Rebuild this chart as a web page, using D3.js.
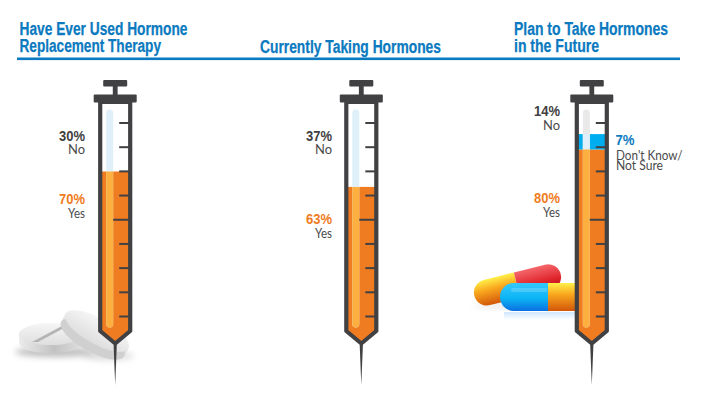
<!DOCTYPE html>
<html lang="en">
<head>
<meta charset="utf-8">
<title>Hormone Use</title>
<script src="https://d3js.org/d3.v7.min.js"></script>
<style>
  html, body { margin: 0; padding: 0; background: #fff; }
  svg { display: block; }
  text { fill: #414042; }
  .title { font-family: "Liberation Sans", sans-serif; font-weight: bold; font-size: 18px; fill: #0b7ac0; stroke: #0b7ac0; stroke-width: 0.25px; }
  .pct { font-family: "Liberation Sans", sans-serif; font-weight: bold; font-size: 15.5px; text-anchor: end; }
  .lab { font-family: Lato, sans-serif; font-weight: 400; font-size: 12.5px; text-anchor: end; fill: #4a4a4c; }
</style>
</head>
<body>
<div id="chart"></div>
<script>
var w = 724, h = 401;

// data
var charts = ["Have Ever Used Hormone Replacement Therapy", "Currently Taking Hormones", "Plan to Take Hormones in the Future"];
var yesValues = [70, 63, 80];
var dontKnowValues = [0, 0, 7];
var noValues = [30, 37, 14];
var tickIndex = [0, 1, 2, 3, 4, 5, 6, 7, 8];
var longTick = 4;

var centers = [115.2, 361.3, 591.8];

var svg = d3.select("#chart").append("svg").attr("width", w).attr("height", h);
var defs = svg.append("defs");

function grad(id, stops, horizontal) {
  var g = defs.append("linearGradient").attr("id", id)
    .attr("x1", 0).attr("y1", 0)
    .attr("x2", horizontal ? 1 : 0).attr("y2", horizontal ? 0 : 1);
  stops.forEach(function(s) { g.append("stop").attr("offset", s[0]).attr("stop-color", s[1]); });
}
grad("pillBlue", [[0, "#35c8fb"], [0.55, "#0cb4f5"], [1, "#0a6fe0"]]);
grad("pillYellow", [[0, "#fff04a"], [0.4, "#f9a81e"], [1, "#d2560a"]]);
grad("pillRed", [[0, "#f4676c"], [0.6, "#e0252c"], [1, "#b5101a"]]);
grad("pillFade", [[0, "#cfe6fb"], [1, "#ffffff"]]);
grad("tabTop", [[0, "#f6f6f6"], [1, "#dedede"]]);
grad("tabSide", [[0, "#ececec"], [0.55, "#c2c2c2"], [1, "#e0e0e0"]], true);
var blur = defs.append("filter").attr("id", "soft").attr("x", "-30%").attr("y", "-100%").attr("width", "160%").attr("height", "300%");
blur.append("feGaussianBlur").attr("stdDeviation", 3);

// value scale shared by the three barrels, tick scale for the printed marks
var y = d3.scaleLinear().domain([0, 100]).range([325.5, 105.5]);
var tickY = d3.scaleLinear().domain([0, 8]).range([316.5, 123]);

// titles
function title(x, lines, widths, base) {
  lines.forEach(function(t, i) {
    svg.append("text").attr("class", "title").attr("x", x).attr("y", base[i])
      .attr("textLength", widths[i]).attr("lengthAdjust", "spacingAndGlyphs").text(t);
  });
}
title(19.5, ["Have Ever Used Hormone", "Replacement Therapy"], [168, 141.5], [35, 51.6]);
title(260, ["Currently Taking Hormones"], [181], [52.6]);
title(514, ["Plan to Take Hormones", "in the Future"], [154, 85], [35, 51.6]);
svg.append("rect").attr("x", 17).attr("y", 57.5).attr("width", 663).attr("height", 2.6).attr("fill", "#0b7ac0");

// tablets, lower left
var tab = svg.append("g");
tab.append("ellipse").attr("cx", 55).attr("cy", 352).attr("rx", 40).attr("ry", 5).attr("fill", "#8f8f8f").attr("opacity", 0.6).attr("filter", "url(#soft)");
tab.append("ellipse").attr("cx", 108).attr("cy", 356).attr("rx", 26).attr("ry", 4).attr("fill", "#b5b5b5").attr("opacity", 0.5).attr("filter", "url(#soft)");
tab.append("path").attr("d", "M19 334 V342 C19 357 83 357 83 342 V334 Z").attr("fill", "url(#tabSide)");
tab.append("ellipse").attr("cx", 51).attr("cy", 334).attr("rx", 32).attr("ry", 11).attr("fill", "url(#tabTop)");
tab.append("path").attr("d", "M32 342 L62 326 L64 328 L38 342 Z").attr("fill", "#b4b4b4");
var tab2 = tab.append("g").attr("transform", "translate(97,331) rotate(29)");
tab2.append("rect").attr("x", -36).attr("y", 0).attr("width", 72).attr("height", 9).attr("fill", "url(#tabSide)");
tab2.append("ellipse").attr("cx", 0).attr("cy", 9).attr("rx", 36).attr("ry", 13).attr("fill", "#d0d0d0");
tab2.append("ellipse").attr("cx", 0).attr("cy", 0).attr("rx", 36).attr("ry", 13).attr("fill", "url(#tabTop)");
tab2.append("path").attr("d", "M-3 -13 L1 -13 L13 -1 L9 -1 Z").attr("fill", "#b4b4b4");

// capsules, lower right
var pills = svg.append("g");
pills.append("ellipse").attr("cx", 510).attr("cy", 306).attr("rx", 38).attr("ry", 1.5).attr("fill", "#bbb").attr("opacity", 0.6).attr("filter", "url(#soft)");
pills.append("rect").attr("x", 504).attr("y", 312).attr("width", 72).attr("height", 8).attr("fill", "url(#pillFade)");
var back = pills.append("g").attr("transform", "translate(517,285) rotate(-14)");
back.append("path").attr("d", "M0 -13 H-31 A13 13 0 0 0 -31 13 H0 Z").attr("fill", "url(#pillYellow)");
back.append("path").attr("d", "M0 -13 H32 A13 13 0 0 1 32 13 H0 Z").attr("fill", "url(#pillRed)");
var front = pills.append("g");
front.append("path").attr("d", "M548 283 H514 A14 14 0 0 0 514 311 H548 Z").attr("fill", "url(#pillBlue)");
front.append("rect").attr("x", 548).attr("y", 283).attr("width", 32).attr("height", 28).attr("fill", "url(#pillYellow)");
front.append("path").attr("d", "M513 288 H547 V292 H513 A2 2 0 0 1 513 288 Z").attr("fill", "#fff").attr("opacity", 0.18);

// one syringe per chart
charts.forEach(function(name, i) {
  var g = svg.append("g").attr("transform", "translate(" + centers[i] + ",0)");
  var halfIn = 15, wall = 4.2;
  var outline = "M" + (-halfIn) + " 102 V331 L0 343.5 L" + halfIn + " 331 V102 Z";
  var clip = "barrel" + i;

  // needle
  g.append("path").attr("d", "M-1.6 345 L0 385 L1.6 345 Z").attr("fill", "#414042");

  defs.append("clipPath").attr("id", clip).append("path").attr("d", outline);
  g.append("path").attr("d", outline).attr("fill", "#fff");

  var body = g.append("g").attr("clip-path", "url(#" + clip + ")");
  var yes = yesValues[i], dk = dontKnowValues[i];

  // orange liquid, filled past the scale's zero down into the tip
  body.append("rect").attr("x", -halfIn).attr("y", y(yes)).attr("width", 2 * halfIn)
    .attr("height", 350 - y(yes)).attr("fill", "#f07c22");
  if (dk > 0) {
    body.append("rect").attr("x", -halfIn).attr("y", y(yes + dk)).attr("width", 2 * halfIn)
      .attr("height", y(yes) - y(yes + dk)).attr("fill", "#00aeef");
  }

  // highlight strip
  var hx = -9, hw = 7;
  body.append("rect").attr("x", hx).attr("y", y(100) + 4).attr("width", hw).attr("height", 218).attr("rx", 3.5)
    .attr("fill", dk > 0 ? "#e9e9e9" : "#dff0fa");
  if (dk > 0) {
    body.append("rect").attr("x", hx).attr("y", y(yes + dk)).attr("width", hw)
      .attr("height", y(yes) - y(yes + dk)).attr("fill", "#dff0fa");
  }
  var hiClip = "high" + i;
  defs.append("clipPath").attr("id", hiClip).append("rect").attr("x", -20).attr("y", y(yes)).attr("width", 40).attr("height", 200);
  body.append("rect").attr("x", hx).attr("y", y(100) + 4).attr("width", hw).attr("height", 218).attr("rx", 3.5)
    .attr("fill", "#fdb040").attr("clip-path", "url(#" + hiClip + ")");

  // printed ticks
  g.selectAll(".tick").data(tickIndex).enter().append("line")
    .attr("x1", function(d) { return d === longTick ? -2 : 4; })
    .attr("x2", 14)
    .attr("y1", function(d) { return tickY(d); })
    .attr("y2", function(d) { return tickY(d); })
    .attr("stroke", "#414042").attr("stroke-width", 2);

  // barrel wall
  g.append("path").attr("d", outline).attr("fill", "none").attr("stroke", "#414042").attr("stroke-width", wall).attr("stroke-linejoin", "round");

  // flange and plunger
  g.append("rect").attr("x", -21.5).attr("y", 94.5).attr("width", 43).attr("height", 8).attr("rx", 1).attr("fill", "#414042");
  g.append("rect").attr("x", -2.4).attr("y", 85).attr("width", 4.8).attr("height", 10).attr("fill", "#414042");
  g.append("rect").attr("x", -12).attr("y", 80).attr("width", 24).attr("height", 6.5).attr("rx", 1).attr("fill", "#414042");
});

// value labels
function label(x, yPct, yLab, pct, lab, col) {
  svg.append("text").attr("class", "pct").attr("x", x).attr("y", yPct).style("fill", col)
    .attr("textLength", 26).attr("lengthAdjust", "spacingAndGlyphs").text(pct + "%");
  svg.append("text").attr("class", "lab").attr("x", x).attr("y", yLab)
    .attr("textLength", 17).attr("lengthAdjust", "spacingAndGlyphs").text(lab);
}
var orange = "#f07c22", dark = "#414042", blue = "#0b7ac0";
label(85, 141, 154, noValues[0], "No", dark);
label(85, 204, 218, yesValues[0], "Yes", orange);
label(332, 141, 154, noValues[1], "No", dark);
label(332, 224, 238, yesValues[1], "Yes", orange);
label(560, 116, 130, noValues[2], "No", dark);
label(560, 203, 217, yesValues[2], "Yes", orange);
svg.append("text").attr("class", "pct").attr("x", 615.5).attr("y", 145).style("text-anchor", "start").style("fill", blue)
  .attr("textLength", 19).attr("lengthAdjust", "spacingAndGlyphs").text(dontKnowValues[2] + "%");
svg.append("text").attr("class", "lab").attr("x", 616).attr("y", 159.5).style("text-anchor", "start")
  .attr("textLength", 66.5).attr("lengthAdjust", "spacingAndGlyphs").text("Don't Know/");
svg.append("text").attr("class", "lab").attr("x", 616).attr("y", 170).style("text-anchor", "start")
  .attr("textLength", 47).attr("lengthAdjust", "spacingAndGlyphs").text("Not Sure");
</script>
</body>
</html>
